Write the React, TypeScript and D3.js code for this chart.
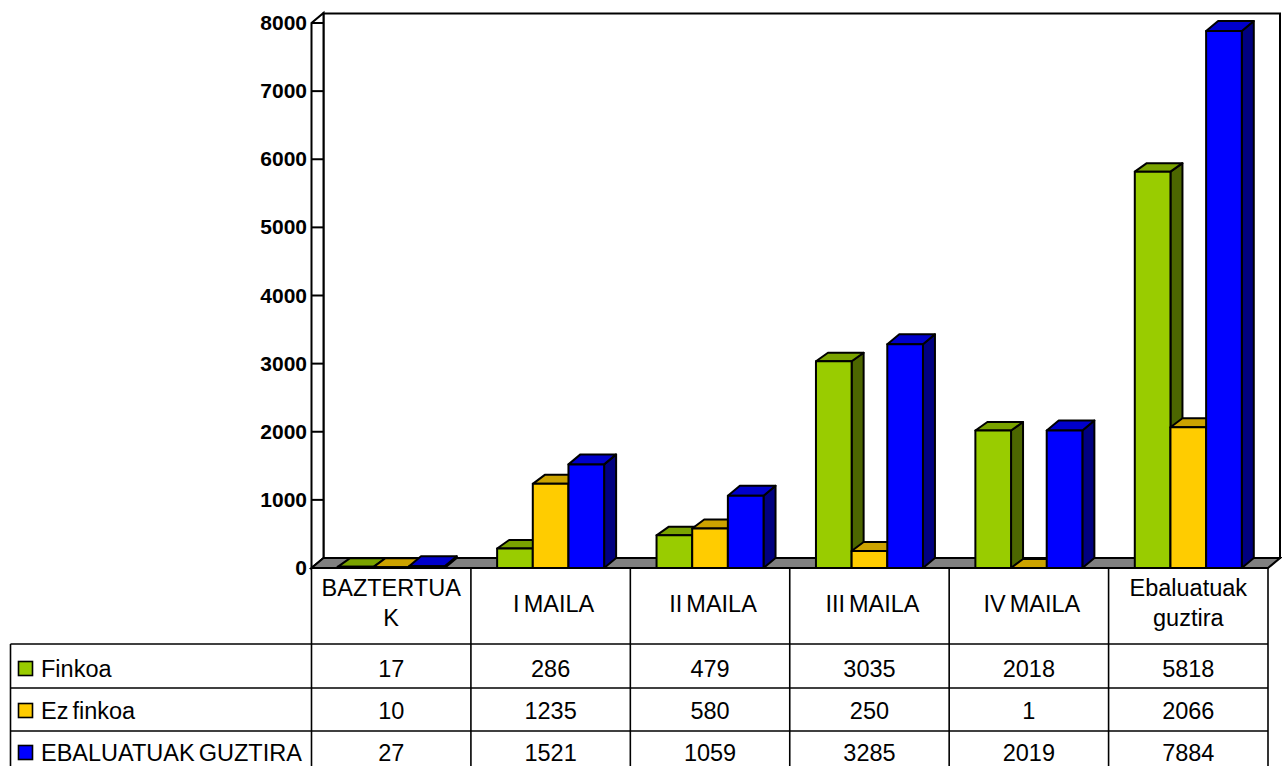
import { scaleBand, scaleLinear } from "d3";

const categories = ["BAZTERTUAK", "I MAILA", "II MAILA", "III MAILA", "IV MAILA", "Ebaluatuak guztira"];
const categoryLines = [["BAZTERTUA", "K"], ["I MAILA"], ["II MAILA"], ["III MAILA"], ["IV MAILA"], ["Ebaluatuak", "guztira"]];
const seriesNames = ["Finkoa", "Ez finkoa", "EBALUATUAK GUZTIRA"];
const finkoa = [17, 286, 479, 3035, 2018, 5818];
const ezFinkoa = [10, 1235, 580, 250, 1, 2066];
const guztira = [27, 1521, 1059, 3285, 2019, 7884];
const yTicks = [0, 1000, 2000, 3000, 4000, 5000, 6000, 7000, 8000];

const seriesValues = [finkoa, ezFinkoa, guztira];
const fronts = ["#99cc00", "#ffcc00", "#0000ff"];
const tops = ["#7aa300", "#cca300", "#0000cc"];
const sides = ["#4c6600", "#806600", "#000080"];

const left = 311.5;
const right = 1268;
const floorY = 568;
const depthX = 12;
const depthY = 10;
const barDepthY = [8.5, 9, 10];
const tableLeft = 10.5;
const rowLines = [644, 688, 731];
const rowBase = [676.5, 718.5, 760.5];
const font = "'Liberation Sans', Arial, sans-serif";
const labelSize = 23.5;

const x = scaleBand<string>().domain(categories).range([left, right]);
const bar = scaleBand<string>()
  .domain(seriesNames)
  .range([0, x.bandwidth()])
  .paddingInner(0)
  .paddingOuter(0.735);
const y = scaleLinear().domain([0, 8000]).range([floorY, 23]);

const poly = (pts: number[][]) => pts.map((p) => p.join(",")).join(" ");

export default function App() {
  const w = bar.bandwidth();
  return (
    <svg
      width={1282}
      height={766}
      style={{ position: "absolute", left: 0, top: 0, background: "#fff" }}
      fontFamily={font}
    >
      {/* wall and floor */}
      <rect x={left + depthX} y={floorY - depthY - 544.5} width={right - left} height={544.5} fill="#fff" stroke="#000" strokeWidth={2} />
      <polygon
        points={poly([[left, floorY], [left, y(8000)], [left + depthX, y(8000) - depthY], [left + depthX, floorY - depthY]])}
        fill="#fff"
        stroke="#000"
        strokeWidth={2}
      />
      <polygon
        points={poly([[left, floorY], [left + depthX, floorY - depthY], [right + depthX, floorY - depthY], [right, floorY]])}
        fill="#808080"
        stroke="#000"
        strokeWidth={2}
      />

      {/* y axis */}
      {yTicks.map((t) => (
        <g key={t}>
          <line x1={left} x2={left + depthX} y1={y(t)} y2={y(t)} stroke="#000" strokeWidth={2} />
          <text x={307} y={y(t) + 7} textAnchor="end" fontSize={21} fontWeight="bold">
            {t}
          </text>
        </g>
      ))}

      {/* bars */}
      {categories.map((c, ci) =>
        seriesNames.map((s, si) => {
          const x0 = (x(c) ?? 0) + (bar(s) ?? 0);
          const x1 = x0 + w;
          const yt = y(seriesValues[si][ci]);
          const dy = barDepthY[si];
          return (
            <g key={`${c}-${s}`} stroke="#000" strokeWidth={2} strokeLinejoin="round">
              <polygon
                points={poly([[x1, floorY], [x1 + depthX, floorY - dy], [x1 + depthX, yt - dy], [x1, yt]])}
                fill={sides[si]}
              />
              <polygon
                points={poly([[x0, yt], [x0 + depthX, yt - dy], [x1 + depthX, yt - dy], [x1, yt]])}
                fill={tops[si]}
              />
              <rect x={x0} y={yt} width={w} height={floorY - yt} fill={fronts[si]} />
            </g>
          );
        }),
      )}

      {/* table grid */}
      <line x1={left} x2={right} y1={floorY} y2={floorY} stroke="#000" strokeWidth={2} />
      {rowLines.map((ry) => (
        <line key={ry} x1={tableLeft} x2={right} y1={ry} y2={ry} stroke="#000" strokeWidth={1.6} />
      ))}
      <line x1={tableLeft} x2={tableLeft} y1={rowLines[0]} y2={766} stroke="#000" strokeWidth={1.6} />
      {categories.map((c) => (
        <line key={c} x1={x(c)} x2={x(c)} y1={floorY} y2={766} stroke="#000" strokeWidth={1.6} />
      ))}
      <line x1={right} x2={right} y1={floorY} y2={766} stroke="#000" strokeWidth={1.6} />

      {/* category labels */}
      {categories.map((c, ci) => {
        const cx = (x(c) ?? 0) + x.bandwidth() / 2;
        const lines = categoryLines[ci];
        const single = lines.length === 1;
        const y0 = single ? 612 : 596;
        return lines.map((l, li) => (
          <text
            key={l}
            x={cx + (single ? 3 : 0)}
            y={y0 + li * 30}
            textAnchor="middle"
            fontSize={labelSize}
            wordSpacing={-2.5}
          >
            {l}
          </text>
        ));
      })}

      {/* legend and values */}
      {seriesNames.map((s, si) => {
        const base = rowBase[si];
        return (
          <g key={s}>
            <rect x={18.5} y={base - 15} width={14} height={14} fill={fronts[si]} stroke="#000" strokeWidth={1.6} />
            <text x={41} y={base} fontSize={labelSize} wordSpacing={-2.5}>
              {s}
            </text>
            {categories.map((c, ci) => (
              <text
                key={c}
                x={(x(c) ?? 0) + x.bandwidth() / 2}
                y={base}
                textAnchor="middle"
                fontSize={labelSize}
              >
                {seriesValues[si][ci]}
              </text>
            ))}
          </g>
        );
      })}
    </svg>
  );
}
